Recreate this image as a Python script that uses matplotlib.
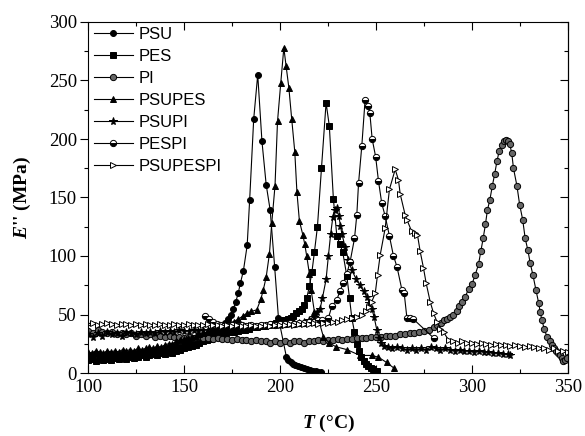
import matplotlib
matplotlib.use("Agg")
import matplotlib.pyplot as plt
from matplotlib.ticker import MultipleLocator, NullFormatter

plt.rcParams["mathtext.fontset"] = "custom"
plt.rcParams["mathtext.it"] = "Liberation Serif:italic:bold"
plt.rcParams["mathtext.rm"] = "Liberation Serif:bold"
plt.rcParams["mathtext.bf"] = "Liberation Serif:bold"

# ---------------- loss modulus E'' (MPa) versus temperature T (degC) ----------------
psu_T = [100, 102, 104, 106, 108, 110, 112, 114, 116, 118, 120, 122, 124, 126, 128, 130, 132, 134,
         136, 138, 140, 142, 144, 146, 148, 150, 152, 154, 156, 158, 160, 162, 164, 166, 168, 170,
         171.5, 173, 174.5, 175.7, 177, 178.2, 179.4, 180.9, 182.9, 184.2, 186.3, 188.4, 190.6,
         192.8, 194.9, 197.2, 199.2,
         203.3, 204.4, 205.5, 206.7, 208, 209.5, 211, 212.5, 214, 215.5, 217, 218.5, 220, 221.5]
psu_E = [15, 13, 16, 14, 15, 14, 16, 15, 14, 16, 15, 16, 17, 16, 17, 18, 17, 18,
         19, 18, 20, 19, 21, 22, 22, 24, 25, 26, 27, 29, 30, 31, 33, 35, 37, 40,
         43, 46, 50, 55, 61, 68, 77, 87, 109, 148, 217, 255, 198,
         161, 139, 91, 47,
         14, 11, 9.5, 8, 7, 6, 5, 4, 3, 2.5, 2, 1.5, 1, 0.5]

pes_T = [100, 102, 104, 106, 108, 110, 112, 114, 116, 118, 120, 122, 124, 126, 128, 130, 132, 134,
         136, 138, 140, 142, 144, 146, 148, 150, 152, 154, 156, 158, 160, 162, 164, 166, 168, 170,
         172, 174, 176, 178, 180, 182, 184, 186, 188, 190, 192, 194, 196, 198,
         200, 202, 204, 205.5, 207, 208.5, 210, 211.3, 212.6, 213.9,
         215.3, 216.6, 217.9, 219.5, 221.6, 224, 225.7, 227.8, 229.6, 231.3,
         232.7, 234.8, 236.2, 237.4, 238.8, 240, 241.2, 242.4, 243.6, 244.8,
         246, 247.2, 248.4, 249.6, 250.5]
pes_E = [11, 12, 10, 12, 11, 12, 11, 13, 12, 13, 12, 14, 13, 14, 15, 14, 15, 16,
         15, 17, 16, 18, 17, 19, 20, 21, 22, 23, 24, 26, 27, 28, 29, 31, 32, 33,
         34, 35, 35, 36, 37, 37, 38, 39, 39, 40, 40, 41, 42, 43,
         44, 45, 46, 47, 49, 51, 53, 55, 58, 64,
         74, 86, 103, 125, 175, 231, 211, 149, 117, 110,
         103, 83, 64, 47, 35, 25, 19, 14, 10, 8,
         6, 4.5, 3, 2, 1.5]

pi_T = [100, 102.5, 105, 107.5, 110, 112.5, 115, 117.5, 120, 122.5, 125, 127.5, 130, 132.5,
        135, 137.5, 140, 142.5, 145, 147.5, 150, 152.5, 155, 157.5, 160, 162.5, 165, 167.5,
        170, 172.5, 175, 177.5, 180, 182.5, 185, 187.5, 190, 192.5, 195, 197.5, 200, 202.5,
        205, 207.5, 210, 212.5, 215, 217.5, 220, 222.5, 225, 227.5, 230, 232.5, 235, 237.5,
        240, 242.5, 245, 247.5, 250, 252.5, 255, 257.5, 260, 262.5, 265, 267.5, 270, 272.5,
        275, 277.5, 280, 282, 283.7, 285.2, 287, 288.6, 290.3, 292, 293.4, 294.7, 296.5,
        298.2, 300, 301.7, 303.4, 304.6, 305.8, 307, 308, 309.3, 310.6, 311.8, 313, 314.2,
        315.4, 316.5, 317.5, 318.5, 319.6, 320.7, 321.6, 323.4, 324.8, 326.4, 327.7, 329.1,
        330.3, 331.7, 333.3, 334.7, 335.5, 336.4, 337.6, 339, 340.4, 341.5, 342.5, 343.8,
        345, 346, 346.8, 347.6, 348.5, 349.4]
pi_E = [36, 34, 37, 35, 34, 35, 33, 34, 33, 34, 32, 33, 32, 33,
        31, 32, 31, 32, 31, 31, 30, 31, 30, 31, 30, 30, 29, 30,
        29, 29, 28, 29, 28, 28, 27, 28, 27, 27, 26, 27, 26, 27,
        26, 27, 27, 26, 27, 27, 28, 27, 28, 28, 29, 28, 29, 29,
        30, 30, 30, 31, 31, 31, 32, 32, 32, 33, 33.5, 34, 34.5, 35,
        36, 37, 39, 41, 43, 45, 46.5, 48, 50, 53, 57, 61, 65,
        72, 76, 84, 93, 104, 115, 127, 139, 148, 160, 170, 181, 190,
        195, 198, 199, 198, 196, 188, 175, 160, 144, 131, 115, 105,
        94, 84, 71, 60, 52.5, 45, 38, 31, 27, 24, 21, 19,
        17, 15, 12.6, 10, 11, 13]

psupes_T = [100, 102, 104, 106, 108, 110, 112, 114, 116, 118, 120, 122, 124, 126, 128, 130, 132,
            134, 136, 138, 140, 142, 144, 146, 148, 150, 152, 154, 156, 158, 160, 162, 164, 166,
            168, 170, 172, 174, 176,
            178.3, 180.5, 182.7, 185, 187.9, 190, 191.3, 192.8, 194.5, 195.7,
            197.4, 198.7, 200.4, 202, 203.2, 204.6, 206.1, 207.7, 208.8, 210.1,
            211.9, 212.9, 213.9, 215.3, 216.2, 217.9, 220, 222.6, 225.5, 229,
            234.8, 241.7, 247.8, 251.3, 255.5, 259.5]
psupes_E = [18, 17, 19, 18, 17, 19, 18, 19, 18, 20, 19, 20, 19, 21, 20, 21, 22,
            21, 23, 22, 24, 25, 25, 27, 28, 29, 30, 31, 32, 33, 34, 35, 36, 37,
            38, 39, 41, 43, 44,
            46, 48.5, 51, 52.6, 54, 63, 71, 82, 102, 128,
            160, 215, 248, 278, 262, 244, 217, 189, 155, 130,
            118, 110, 100, 85, 71, 52.5, 46, 31, 26, 22.5,
            20, 15, 15, 13.5, 9, 4]

psupi_T = [100, 102.5, 105, 107.5, 110, 112.5, 115, 117.5, 120, 122.5, 125, 127.5, 130, 132.5,
           135, 137.5, 140, 142.5, 145, 147.5, 150, 152.5, 155, 157.5, 160, 162.5, 165, 167.5,
           170, 172.5, 175, 177.5, 180, 182.5, 185, 187.5, 190, 192.5, 195, 197.5, 200, 202.5,
           205, 207.5, 210, 212.5, 215,
           217.5, 219.5, 220.9, 222.1, 224, 225.2, 226.4, 227.5, 228.5, 229.5, 230.6, 231.5,
           232.2, 233.9, 235.6, 237.4, 239.7, 241.7, 243.5, 245.2, 246.5, 247.8, 249, 250.4,
           251.5, 252.5, 254, 256, 258.5, 261, 263.5, 266, 268.5, 271, 273.5, 276, 278.5, 281,
           283.5, 286, 288.5, 291, 293.5, 296, 298.5, 301, 303.5, 306, 308.5, 311, 313.5, 316,
           318.5, 320]
psupi_E = [33, 31, 34, 32, 35, 33, 34, 32, 35, 34, 33, 35, 34, 35,
           34, 36, 35, 36, 35, 37, 36, 36, 37, 36, 37, 37, 38, 37,
           38, 38, 39, 38, 39, 39, 40, 39, 40, 40, 41, 41, 41, 42,
           42, 43, 43, 44, 45,
           48, 52, 55, 64, 80, 100, 119, 133, 139, 141, 134, 126,
           119, 108, 97, 88, 80, 75, 70, 65, 60, 55, 48, 37,
           30, 26, 23, 22, 21, 22, 21, 20, 21, 20, 21, 20, 22, 21,
           20, 21, 20, 19, 20, 19, 19, 18, 19, 18, 18, 17, 17, 16,
           16, 15]

pespi_T = [161, 163, 165, 167, 169, 171, 173, 175, 177.5, 180,
           182.5, 185, 187.5, 190, 192.5, 195, 197.5, 200, 202.5, 205,
           207.5, 210, 212.5, 215, 217.5, 220, 222, 225.2, 227, 229.6,
           231.3, 233, 234.8, 236.5, 238.8, 240, 240.9, 242.6, 244.3, 245.9,
           246.8, 248, 249.8, 251.3, 253, 254.8, 257, 259.1, 260.9, 263.5,
           264.7, 266.1, 267.8, 269.5, 280]
pespi_E = [49, 46, 44, 42, 41, 40, 40, 41, 40, 41,
           40, 41, 40, 41, 41, 42, 41, 42, 42, 43,
           42, 43, 43, 44, 44, 45, 45, 47, 57, 62.6,
           70.5, 77, 85, 95, 115, 135, 162, 194, 233, 228,
           222, 200, 185, 164, 145, 134, 117, 100, 91, 71,
           68, 47, 47, 46, 30]

psupespi_T = [100, 102.5, 105, 107.5, 110, 112.5, 115, 117.5, 120, 122.5, 125, 127.5, 130, 132.5,
              135, 137.5, 140, 142.5, 145, 147.5, 150, 152.5, 155, 157.5, 160, 162.5, 165, 167.5,
              170, 172.5, 175, 177.5, 180, 182.5, 185, 187.5, 190, 192.5, 195, 197.5, 200, 202.5,
              205, 207.5, 210, 212.5, 215, 217.5, 220, 222.5, 225, 227.5,
              230, 232.5, 235, 237.5, 240, 242.5, 245, 246.3, 247.8, 249.6, 250.8, 252.2, 254.8,
              257, 260, 261.7, 262.6, 265.2, 266.1, 268.6, 270.4, 271.6, 273, 274.7, 276.1,
              278.2, 280, 281.7, 283.5, 285.2, 287.8, 290, 292.5, 295, 297.5, 300, 302.5, 305,
              307.5, 310, 312.5, 315, 317.5, 320, 322.5, 325, 327.5, 330, 332.5, 335, 337.5,
              340, 342.5, 345, 347.5, 350]
psupespi_E = [42, 43, 41, 42, 43, 42, 41, 42, 42, 41, 42, 41, 42, 41,
              41, 42, 41, 41, 42, 41, 41, 42, 41, 41, 41, 42, 41, 41,
              40, 41, 40, 41, 40, 40, 41, 40, 40, 41, 40, 41, 41, 41,
              42, 41, 42, 42, 42, 43, 42, 43, 43, 44,
              44, 45, 46, 47, 48, 50, 53, 56, 61, 68, 84, 101, 124,
              157, 174, 165, 153, 135, 131, 121, 120, 118, 104, 90, 77,
              61, 51, 44, 38, 35, 28, 27, 26, 27, 26, 26, 25, 26,
              25, 24, 25, 24, 24, 23, 24, 23, 22, 23, 22, 21, 21,
              20, 21, 19, 19, 18]

labels = ["PSU", "PES", "PI", "PSUPES", "PSUPI", "PESPI", "PSUPESPI"]
temps = [psu_T, pes_T, pi_T, psupes_T, psupi_T, pespi_T, psupespi_T]
moduli = [psu_E, pes_E, pi_E, psupes_E, psupi_E, pespi_E, psupespi_E]

marker_styles = [
    dict(marker="o", ms=4.3, mfc="k"),
    dict(marker="s", ms=4.0, mfc="k"),
    dict(marker="o", ms=4.5, mfc="0.4"),
    dict(marker="^", ms=4.8, mfc="k"),
    dict(marker="*", ms=5.8, mfc="k"),
    dict(marker="o", ms=4.5, fillstyle="bottom", mfc="k", mfcalt="white"),
    dict(marker=">", ms=4.5, mfc="white"),
]

fig = plt.figure(figsize=(5.85, 4.36), dpi=100)
ax = fig.add_axes([88 / 585, 1 - 373 / 436, 480 / 585, 351 / 436])

handles = []
for lab, T, E, st in zip(labels, temps, moduli, marker_styles):
    h, = ax.plot(T, E, color="k", lw=0.8, mec="k", mew=0.7, label=lab, **st)
    handles.append(h)

ax.set_xlim(100, 350)
ax.set_ylim(0, 300)
for axis in (ax.xaxis, ax.yaxis):
    axis.set_major_locator(MultipleLocator(50))
    axis.set_minor_locator(MultipleLocator(25))

for s in ax.spines.values():
    s.set_linewidth(0.8)

ax.tick_params(axis="x", which="both", direction="in", top=True, bottom=True, pad=4)
ax.tick_params(axis="y", which="both", direction="out", left=True, right=False, pad=2)
ax.tick_params(which="major", length=6, width=0.8)
ax.tick_params(which="minor", length=3, width=0.8)

right = ax.secondary_yaxis("right")
right.yaxis.set_major_locator(MultipleLocator(50))
right.yaxis.set_minor_locator(MultipleLocator(25))
right.yaxis.set_major_formatter(NullFormatter())
right.tick_params(which="both", direction="in", width=0.8)
right.tick_params(which="major", length=6)
right.tick_params(which="minor", length=3)
right.spines["right"].set_linewidth(0.8)

for lbl in ax.get_xticklabels() + ax.get_yticklabels():
    lbl.set_fontfamily("Liberation Serif")
    lbl.set_fontsize(13.5)

ax.set_xlabel("$T$ (°C)", fontfamily="Liberation Serif", fontweight="bold", fontsize=14)
ax.set_ylabel("$E$'' (MPa)", fontfamily="Liberation Serif", fontweight="bold", fontsize=14)
ax.xaxis.set_label_coords(0.5, -0.115)
ax.yaxis.set_label_coords(-0.115, 0.5)

ax.legend(handles=handles, loc="upper left", bbox_to_anchor=(0.012, 0.985),
          frameon=False, borderpad=0, borderaxespad=0,
          handlelength=2.35, handletextpad=0.35, labelspacing=0.42,
          prop={"family": "Liberation Sans", "size": 12})

fig.savefig("out.png", dpi=100)
